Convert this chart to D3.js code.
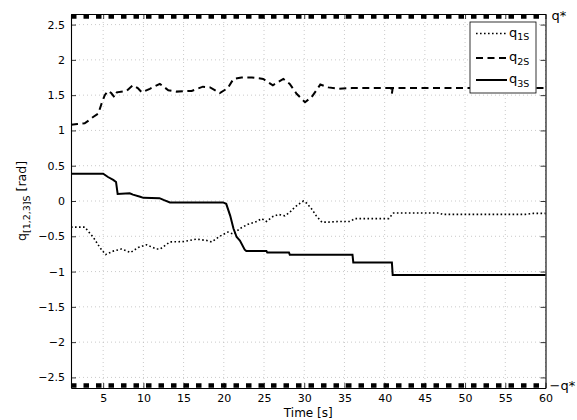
<!DOCTYPE html>
<html>
<head>
<meta charset="utf-8">
<script src="https://cdn.jsdelivr.net/npm/d3@7"></script>
<style>
  html, body { margin: 0; padding: 0; background: #fff; }
  svg { display: block; }
  text { font-family: "DejaVu Sans", "Liberation Sans", sans-serif; fill: #000; }
</style>
</head>
<body>
<svg id="chart" width="577" height="420"></svg>
<script>
// Joint trajectories q1S, q2S, q3S over time, with the joint limits ±q*
const q1Time  = [1, 2.7, 3.75, 4.6, 5.3, 6.25, 7.3, 8.4, 9.35, 10.4, 11.6, 12.1, 13.3, 14.95, 16.6, 17.9, 18.5, 19.5, 20.5, 21.2, 22, 23, 24.1, 24.7, 25.3, 26.1, 26.8, 27.6, 28.2, 28.8, 29.5, 29.9, 30.3, 30.9, 31.5, 32.2, 33, 34.2, 35.7, 36.3, 40.5, 41.1, 46.8, 47.2, 57.5, 58.5, 60];
const q1Value = [-0.37, -0.37, -0.51, -0.66, -0.76, -0.71, -0.68, -0.73, -0.66, -0.62, -0.68, -0.68, -0.58, -0.575, -0.54, -0.56, -0.58, -0.50, -0.44, -0.47, -0.39, -0.33, -0.29, -0.25, -0.29, -0.22, -0.19, -0.21, -0.16, -0.09, -0.03, 0.0, -0.03, -0.11, -0.21, -0.30, -0.30, -0.29, -0.29, -0.25, -0.25, -0.17, -0.17, -0.19, -0.19, -0.175, -0.175];

const q2Time  = [1, 1.8, 2.7, 3.3, 3.75, 4.4, 4.8, 5.2, 5.6, 6.0, 6.4, 6.7, 7.9, 8.7, 9.3, 9.8, 10.8, 12.05, 13.1, 14.1, 16, 17.4, 18.3, 19.5, 20.5, 21.2, 22.2, 23.5, 24.9, 26.1, 27.4, 28.2, 29.05, 30.1, 30.9, 32.0, 33, 34.2, 35.9, 40.8, 40.9, 41.0, 60];
const q2Value = [1.08, 1.09, 1.10, 1.15, 1.19, 1.24, 1.38, 1.50, 1.56, 1.53, 1.47, 1.54, 1.56, 1.64, 1.60, 1.54, 1.59, 1.66, 1.57, 1.55, 1.56, 1.62, 1.61, 1.53, 1.60, 1.73, 1.75, 1.75, 1.73, 1.64, 1.73, 1.66, 1.52, 1.40, 1.47, 1.65, 1.61, 1.59, 1.60, 1.60, 1.52, 1.60, 1.60];

const q3Time  = [1, 5.0, 5.6, 6.25, 6.6, 6.8, 8.3, 8.7, 9.6, 10, 12, 12.5, 13.3, 19.9, 20.3, 20.8, 21.2, 21.6, 22.0, 22.6, 22.8, 25.3, 25.4, 28.1, 28.2, 36.0, 36.1, 40.9, 41.0, 60];
const q3Value = [0.386, 0.386, 0.34, 0.30, 0.27, 0.10, 0.11, 0.09, 0.06, 0.045, 0.04, 0.015, -0.02, -0.02, -0.04, -0.21, -0.39, -0.51, -0.56, -0.69, -0.71, -0.71, -0.73, -0.73, -0.76, -0.76, -0.87, -0.87, -1.05, -1.05];

const qLimit = 2.615;
const xTicks = [5, 10, 15, 20, 25, 30, 35, 40, 45, 50, 55, 60];
const yTicks = [-2.5, -2, -1.5, -1, -0.5, 0, 0.5, 1, 1.5, 2, 2.5];
const seriesNames = ["1S", "2S", "3S"];

const svg = d3.select("#chart");
const L = 71, R = 545.5, T = 14, B = 388;

const x = d3.scaleLinear().domain([1, 60]).range([L, R]);
const y = d3.scaleLinear().domain([-2.65, 2.65]).range([B, T]);

const fmt = v => (v < 0 ? "\u2212" : "") + String(Math.abs(v));

// grid
const grid = svg.append("g");
grid.selectAll("line.gx").data(xTicks).enter().append("line")
  .attr("x1", d => x(d)).attr("x2", d => x(d)).attr("y1", T).attr("y2", B)
  .attr("stroke", "#bdbdbd").attr("stroke-width", 0.8).attr("stroke-dasharray", "1,3");
grid.selectAll("line.gy").data(yTicks).enter().append("line")
  .attr("x1", L).attr("x2", R).attr("y1", d => y(d)).attr("y2", d => y(d))
  .attr("stroke", "#bdbdbd").attr("stroke-width", 0.8).attr("stroke-dasharray", "1,3");

// axes (ticks inward, on all four sides)
const axB = svg.append("g").attr("transform", `translate(0,${B})`)
  .call(d3.axisBottom(x).tickValues(xTicks).tickSizeInner(-5).tickSizeOuter(0).tickPadding(6).tickFormat(fmt));
const axT = svg.append("g").attr("transform", `translate(0,${T})`)
  .call(d3.axisTop(x).tickValues(xTicks).tickSizeInner(-5).tickSizeOuter(0).tickFormat(""));
const axL = svg.append("g").attr("transform", `translate(${L},0)`)
  .call(d3.axisLeft(y).tickValues(yTicks).tickSizeInner(-5).tickSizeOuter(0).tickPadding(6).tickFormat(fmt));
const axR = svg.append("g").attr("transform", `translate(${R},0)`)
  .call(d3.axisRight(y).tickValues(yTicks).tickSizeInner(-5).tickSizeOuter(0).tickFormat(""));
[axB, axT, axL, axR].forEach(a => {
  a.selectAll("path").attr("stroke", "#000").attr("stroke-width", 1.1);
  a.selectAll("line").attr("stroke", "#000").attr("stroke-width", 0.8);
  a.selectAll("text").style("font-family", "'DejaVu Sans', sans-serif").style("font-size", "11px").attr("fill", "#000");
});

// series
const line = d3.line().x(d => x(d[0])).y(d => y(d[1]));
const zip = (t, v) => t.map((d, i) => [d, v[i]]);
const plot = svg.append("g");
plot.append("path").datum(zip(q1Time, q1Value)).attr("d", line)
  .attr("fill", "none").attr("stroke", "#000").attr("stroke-width", 1.6).attr("stroke-dasharray", "1.6,2.4");
plot.append("path").datum(zip(q2Time, q2Value)).attr("d", line)
  .attr("fill", "none").attr("stroke", "#000").attr("stroke-width", 2).attr("stroke-dasharray", "7,4.5");
plot.append("path").datum(zip(q3Time, q3Value)).attr("d", line)
  .attr("fill", "none").attr("stroke", "#000").attr("stroke-width", 2);

// limits ±q*
[qLimit, -qLimit].forEach(v => {
  plot.append("path").datum([[1, v], [60, v]]).attr("d", line)
    .attr("fill", "none").attr("stroke", "#000").attr("stroke-width", 4.5).attr("stroke-dasharray", "5.5,7");
});
svg.append("text").attr("x", R + 6).attr("y", y(qLimit) + 4).style("font-size", "13px").text("q*");
svg.append("text").attr("x", R + 4).attr("y", y(-qLimit) + 4).style("font-size", "13px").text("\u2212q*");

// legend
const lg = svg.append("g");
lg.append("rect").attr("x", 470).attr("y", 22).attr("width", 66).attr("height", 71)
  .attr("fill", "#fff").attr("stroke", "#000").attr("stroke-width", 0.8);
const legendStyles = [
  { w: 1.6, dash: "1.6,2.4" },
  { w: 2, dash: "7,4.5" },
  { w: 2, dash: null }
];
const rowY = [33.5, 58, 80];
seriesNames.forEach((name, i) => {
  const ln = lg.append("line").attr("x1", 476).attr("x2", 507).attr("y1", rowY[i]).attr("y2", rowY[i])
    .attr("stroke", "#000").attr("stroke-width", legendStyles[i].w);
  if (legendStyles[i].dash) ln.attr("stroke-dasharray", legendStyles[i].dash);
  const t = lg.append("text").attr("x", 509).attr("y", rowY[i] + 3).style("font-size", "13px");
  t.append("tspan").text("q");
  t.append("tspan").attr("dy", 3.5).style("font-size", "9.5px").text(name);
});

// axis titles
svg.append("text").attr("x", (L + R) / 2).attr("y", 417).attr("text-anchor", "middle")
  .style("font-size", "12px").text("Time [s]");
const yl = svg.append("text").attr("transform", `translate(26,${(T + B) / 2}) rotate(-90)`)
  .attr("text-anchor", "middle").style("font-size", "12.5px");
yl.append("tspan").text("q");
yl.append("tspan").attr("dy", 3.5).style("font-size", "9.5px").text("[1,2,3]S");
yl.append("tspan").attr("dy", -3.5).text(" [rad]");
</script>
</body>
</html>
